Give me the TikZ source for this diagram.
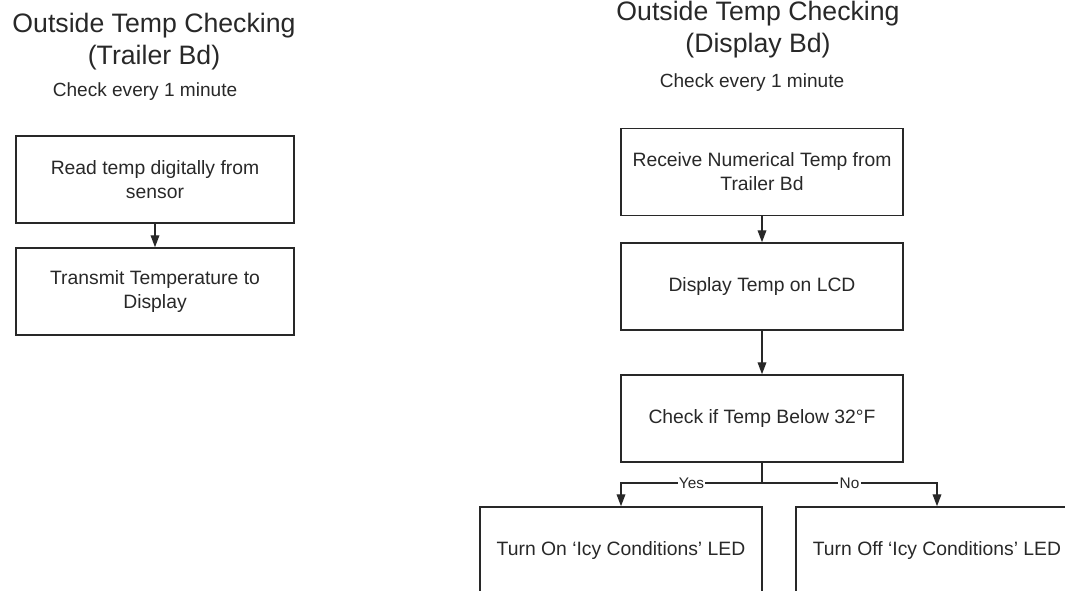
\documentclass[tikz,border=0pt]{standalone}
\usepackage{fontspec}
\setmainfont{Liberation Sans}
\usepackage{xcolor}
\usepackage{tikz}
\usetikzlibrary{arrows.meta, positioning}
\definecolor{inkgray}{RGB}{40, 40, 40}

\tikzset{
    stepbox/.style={draw=inkgray, line width=1.1pt, inner sep=0pt, minimum width=211.5pt,
          minimum height=65.25pt, align=center, text=inkgray,
          font=\fontsize{14.5}{18}\selectfont},
    heading/.style={align=center, text=inkgray, font=\fontsize{20}{24.5}\selectfont},
    every/.style={text=inkgray, font=\fontsize{14.3}{17}\selectfont},
    flow/.style={draw=inkgray, line width=1.1pt, -{Triangle[length=9pt, width=6.5pt]}},
    branch/.style={fill=white, inner sep=1pt, text=inkgray, font=\fontsize{11.5}{13}\selectfont}
}

\begin{document}
\begin{tikzpicture}[x=0.75pt, y=-0.75pt]
    \useasboundingbox (0,0) rectangle (1065,591);

    % trailer board
    \node[heading] (trailerTitle) at (154,41.5) {Outside Temp Checking\\(Trailer Bd)};
    \node[every] (trailerRate) at (145,92) {Check every 1 minute};
    \node[stepbox, minimum width=208.5pt] (readTemp) at (155,179.5) {Read temp digitally from\\sensor};
    \node[stepbox, minimum width=208.5pt] (sendTemp) at (155,291.5) {Transmit Temperature to\\Display};
    \draw[flow] (readTemp) -- (sendTemp);

    % display board
    \node[heading] (displayTitle) at (758,29.5) {Outside Temp Checking\\(Display Bd)};
    \node[every] (displayRate) at (752,83) {Check every 1 minute};
    \node[stepbox] (recvTemp) at (762,172) {Receive Numerical Temp from\\Trailer Bd};
    \node[stepbox] (showTemp) at (762,286.5) {Display Temp on LCD};
    \node[stepbox] (checkTemp) at (762,418.5) {Check if Temp Below 32°F};
    \node[stepbox] (icyOn) at (621,550.5) {Turn On ‘Icy Conditions’ LED};
    \node[stepbox] (icyOff) at (937,550.5) {Turn Off ‘Icy Conditions’ LED};
    \coordinate (split) at (762,483);

    \draw[flow] (recvTemp) -- (showTemp);
    \draw[flow] (showTemp) -- (checkTemp);
    \draw[draw=inkgray, line width=1.1pt] (checkTemp.south) -- (split);
    \draw[flow] (split) -- node[branch] {Yes} (split -| icyOn.north) -- (icyOn.north);
    \draw[flow] (split) -- node[branch] {No} (split -| icyOff.north) -- (icyOff.north);
\end{tikzpicture}
\end{document}
